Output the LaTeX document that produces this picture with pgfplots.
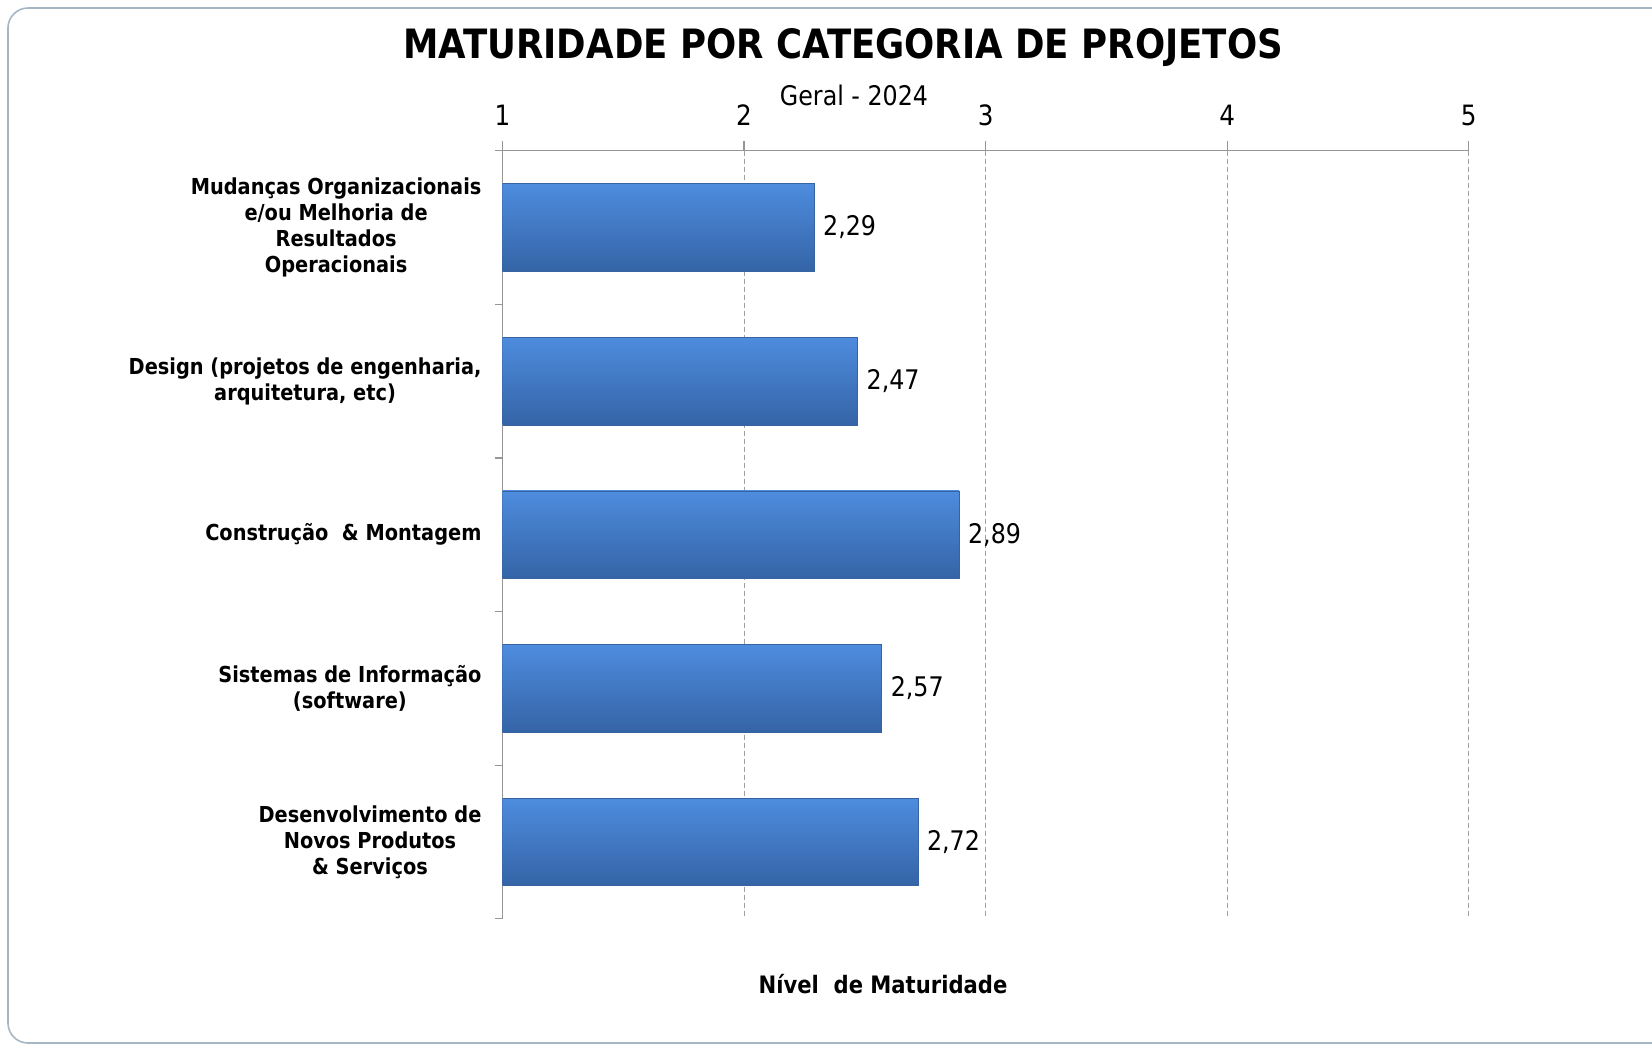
\documentclass[border=0pt]{standalone}
\usepackage{fontspec}
\setmainfont{DejaVu Sans}[FakeStretch=0.88]
\usepackage{pgfplots}
\pgfplotsset{compat=1.18}

\definecolor{barTop}{RGB}{78,140,222}
\definecolor{barBot}{RGB}{52,100,166}
\definecolor{barEdge}{RGB}{55,100,160}
\definecolor{frameCol}{RGB}{165,182,196}
\definecolor{axisGray}{RGB}{150,150,150}
\definecolor{gridGray}{RGB}{160,160,160}

\tikzset{barra/.style={top color=barTop, bottom color=barBot, draw=barEdge, line width=0.4pt}}

\begin{document}
\begin{tikzpicture}
% página: 1652 x 1045 px -> 826 x 522.5 pt
\useasboundingbox (0,0) rectangle (826pt,-522.5pt);
\draw[frameCol, line width=0.8pt, rounded corners=10pt] (4pt,-4pt) rectangle (850pt,-521.5pt);

\begin{axis}[
    at={(251.25pt,-459.35pt)}, anchor=south west,
    width=483.1pt, height=384pt, scale only axis,
    xmin=1, xmax=5, ymin=0.5, ymax=5.5,
    y dir=reverse,
    xbar, bar width=43.8pt, bar shift=0pt,
    axis x line*=top, axis y line*=left,
    axis line style={axisGray, line width=0.6pt, -},
    tick align=outside,
    tick style={axisGray, line width=0.6pt},
    major tick length=5pt, minor tick length=4pt,
    xtick={1,2,3,4,5},
    ytick={1,2,3,4,5},
    minor ytick={0.5,1.5,2.5,3.5,4.5,5.5},
    major y tick style={draw=none},
    xmajorgrids,
    major x grid style={gridGray, dash pattern=on 2.5pt off 1.5pt, line width=0.4pt},
    /pgf/number format/assume math mode=true,
    xticklabel style={font=\fontsize{14}{16}\selectfont, yshift=4pt},
    yticklabel style={font=\fontsize{11}{13}\selectfont\bfseries, align=center, xshift=-2pt},
    yticklabels={
        {Mudanças Organizacionais\\e/ou Melhoria de\\Resultados\\Operacionais},
        {Design (projetos de engenharia,\\arquitetura, etc)},
        {Construção\ \ \& Montagem},
        {Sistemas de Informação\\(software)},
        {Desenvolvimento de\\Novos Produtos\\\& Serviços}
    },
    point meta=x,
    nodes near coords={\pgfmathprintnumber[fixed, precision=2, fixed zerofill, use comma]{\pgfplotspointmeta}},
    nodes near coords style={anchor=west, font=\fontsize{13.5}{16}\selectfont, black, xshift=1pt},
]
% uma barra por \addplot para que cada uma tenha o seu degradê
\addplot[barra] coordinates {(2.29,1)};
\addplot[barra] coordinates {(2.47,2)};
\addplot[barra] coordinates {(2.89,3)};
\addplot[barra] coordinates {(2.57,4)};
\addplot[barra] coordinates {(2.72,5)};
\end{axis}

\node[font=\fontsize{20.2}{24}\selectfont\bfseries] at (421.5pt,-24pt) {MATURIDADE POR CATEGORIA DE PROJETOS};
\node[font=\fontsize{13.5}{16}\selectfont] at (427pt,-47.5pt) {Geral - 2024};
\node[font=\fontsize{12}{14}\selectfont\bfseries] at (441.5pt,-492pt) {Nível\ \ de Maturidade};
\end{tikzpicture}
\end{document}
